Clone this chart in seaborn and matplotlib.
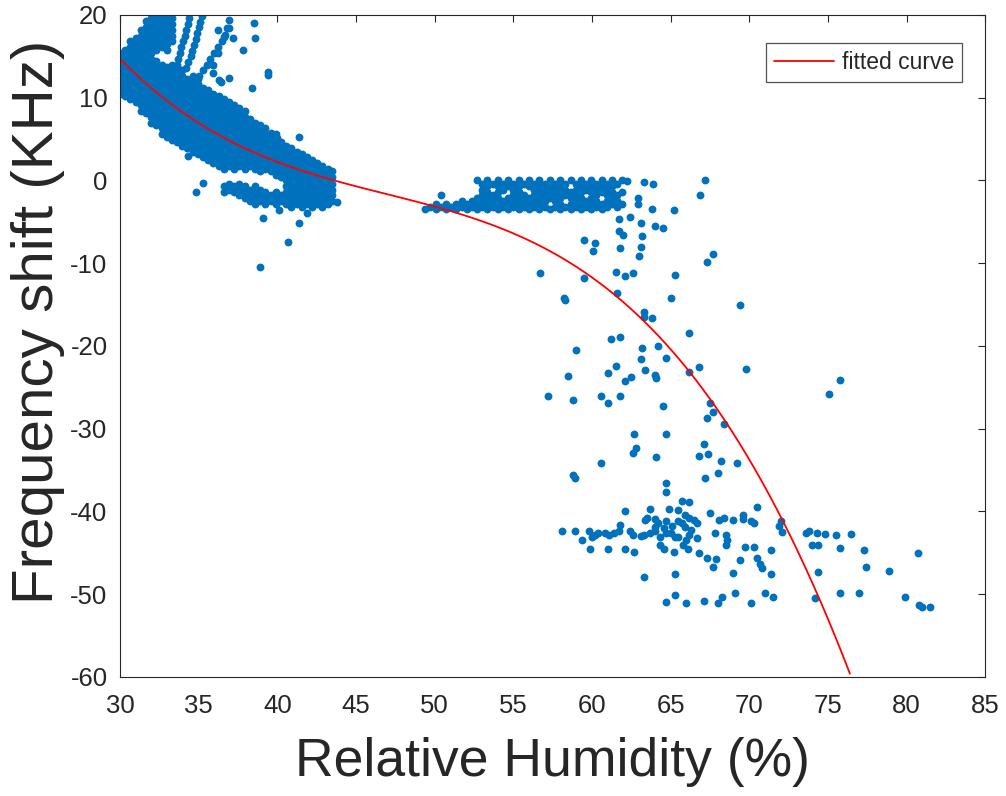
import matplotlib
matplotlib.use("Agg")
import matplotlib.pyplot as plt
import pandas as pd
import seaborn as sns

# dense cloud at low humidity: rh -> list of frequency shifts
dry_cloud = {
    30.0: [10.5, 11.2, 11.9, 12.6, 13.3, 14.0, 14.7, 15.4],
    30.33: [10.2, 10.9, 11.6, 12.3, 13.0, 13.7, 14.4, 15.1, 15.8],
    30.66: [9.8, 10.5, 11.2, 11.9, 12.6, 13.3, 14.0, 14.7, 15.4, 16.1, 16.8],
    30.99: [9.5, 10.2, 10.9, 11.6, 12.3, 13.0, 13.7, 14.4, 15.1, 15.8, 16.5, 17.2],
    31.32: [8.4, 9.1, 9.8, 10.5, 11.2, 11.9, 12.6, 13.3, 14.0, 14.7, 15.4, 16.1, 16.8, 17.5, 18.2],
    31.65: [8.1, 8.8, 9.5, 10.2, 10.9, 11.6, 12.3, 13.0, 13.7, 14.4, 15.1, 15.8, 16.5, 17.2, 17.9, 18.6, 19.3],
    31.98: [7.0, 7.7, 8.4, 9.1, 9.8, 10.5, 11.2, 11.9, 12.6, 13.3, 14.0, 14.7, 15.4, 16.1, 16.8, 17.5, 18.2, 18.9, 19.6],
    32.31: [6.7, 7.4, 8.1, 8.8, 9.5, 10.2, 10.9, 11.6, 12.3, 13.0, 13.7, 14.4, 15.8, 16.5, 17.2, 17.9, 18.6, 19.3, 20.0],
    32.64: [5.6, 6.3, 7.0, 7.7, 8.4, 9.1, 9.8, 10.5, 11.2, 11.9, 12.6, 13.3, 14.0, 16.1, 16.8, 17.5, 18.2, 18.9, 19.6],
    32.97: [5.3, 6.0, 6.7, 7.4, 8.1, 8.8, 9.5, 10.2, 10.9, 11.6, 12.3, 13.0, 13.7, 15.8, 16.5, 17.2, 17.9, 18.6, 19.3, 20.0],
    33.3: [4.9, 5.6, 6.3, 7.0, 7.7, 8.4, 9.1, 9.8, 10.5, 11.2, 11.9, 12.6, 13.3, 14.0, 16.8, 17.5, 18.2, 18.9, 19.6],
    33.63: [4.6, 5.3, 6.0, 6.7, 7.4, 8.1, 8.8, 9.5, 10.2, 10.9, 11.6, 12.3, 13.0, 13.7],
    33.96: [4.2, 4.9, 5.6, 6.3, 7.0, 7.7, 8.4, 9.1, 9.8, 10.5, 11.2, 11.9, 12.6, 13.3],
    34.29: [3.9, 4.6, 5.3, 6.0, 6.7, 7.4, 8.1, 8.8, 9.5, 10.2, 10.9, 11.6, 12.3],
    34.62: [3.5, 4.2, 4.9, 5.6, 6.3, 7.0, 7.7, 8.4, 9.1, 9.8, 10.5, 11.2, 11.9, 12.6],
    34.95: [3.2, 3.9, 4.6, 5.3, 6.0, 6.7, 7.4, 8.1, 8.8, 9.5, 10.2, 10.9, 11.6, 12.3],
    35.28: [2.8, 3.5, 4.2, 4.9, 5.6, 6.3, 7.0, 7.7, 8.4, 9.1, 9.8, 10.5, 11.2],
    35.61: [2.5, 3.2, 3.9, 4.6, 5.3, 6.0, 6.7, 7.4, 8.1, 8.8, 9.5, 10.2, 10.9],
    35.94: [2.1, 2.8, 3.5, 4.2, 4.9, 5.6, 6.3, 7.0, 7.7, 8.4, 9.1, 9.8, 10.5],
    36.27: [1.8, 2.5, 3.2, 3.9, 4.6, 5.3, 6.0, 6.7, 7.4, 8.1, 8.8, 9.5, 10.2],
    36.6: [-1.4, -0.7, 1.4, 2.1, 2.8, 3.5, 4.2, 4.9, 5.6, 6.3, 7.0, 7.7, 8.4, 9.1, 9.8],
    36.93: [-1.1, -0.4, 1.8, 2.5, 3.2, 3.9, 4.6, 5.3, 6.0, 6.7, 7.4, 8.1, 8.8, 9.5],
    37.26: [-1.4, -0.7, 1.4, 2.1, 2.8, 3.5, 4.2, 4.9, 5.6, 6.3, 7.0, 7.7, 8.4, 9.1],
    37.59: [-1.8, -1.1, -0.4, 1.8, 2.5, 3.2, 3.9, 4.6, 5.3, 6.0, 6.7, 7.4, 8.1, 8.8],
    37.92: [-2.1, -1.4, -0.7, 1.4, 2.1, 2.8, 3.5, 4.2, 4.9, 5.6, 6.3, 7.0, 7.7, 8.4],
    38.25: [-2.5, -1.8, -1.1, 1.8, 2.5, 3.2, 3.9, 4.6, 5.3, 6.0, 6.7, 7.4],
    38.58: [-2.8, -2.1, -1.4, -0.7, 1.4, 2.1, 2.8, 3.5, 4.2, 4.9, 5.6, 6.3, 7.0],
    38.91: [-2.5, -1.8, -1.1, 1.1, 1.8, 2.5, 3.2, 3.9, 4.6, 5.3, 6.0, 6.7],
    39.24: [-2.8, -2.1, -1.4, 1.4, 2.1, 2.8, 3.5, 4.2, 4.9, 5.6, 6.3],
    39.57: [-2.5, -1.8, 1.1, 1.8, 2.5, 3.2, 3.9, 4.6, 5.3],
    39.9: [-2.8, -2.1, -1.4, 0.7, 1.4, 2.1, 2.8, 3.5, 4.2, 4.9, 5.6],
    40.23: [-2.5, -1.8, 0.4, 1.1, 1.8, 2.5, 3.2, 3.9, 4.6],
    40.56: [-2.8, -2.1, -1.4, -0.7, 0.0, 0.7, 1.4, 2.1, 2.8, 3.5, 4.2],
    40.89: [-3.2, -2.5, -1.8, -1.1, -0.4, 0.4, 1.1, 1.8, 2.5, 3.2, 3.9],
    41.22: [-2.8, -2.1, -1.4, -0.7, 0.0, 0.7, 1.4, 2.1, 2.8, 3.5],
    41.55: [-3.2, -2.5, -1.8, -1.1, -0.4, 0.4, 1.1, 1.8, 2.5, 3.2],
    41.88: [-2.8, -2.1, -1.4, -0.7, 0.0, 0.7, 1.4, 2.1, 2.8],
    42.21: [-3.2, -2.5, -1.8, -1.1, -0.4, 0.4, 1.1, 1.8, 2.5],
    42.54: [-2.8, -2.1, -1.4, -0.7, 0.0, 0.7, 1.4, 2.1],
    42.87: [-3.2, -2.5, -1.8, -1.1, -0.4, 0.4, 1.1, 1.8],
    43.2: [-2.8, -2.1, -1.4, -0.7, 0.0, 0.7, 1.4],
    43.5: [-2.5, -1.8, -1.1, -0.4, 0.4, 1.1],
}

# streaks rising out of the dry cloud and its stray points
dry_rh = [33.6, 33.7, 33.8, 33.9, 34.0, 34.1, 34.2, 34.3, 34.4,
          34.2, 34.35, 34.5, 34.6, 34.7, 34.8, 34.9, 35.0, 35.1, 35.2,
          35.0, 35.25, 35.5, 35.75, 36.0, 36.25, 36.5, 36.7, 36.9,
          36.9, 38.5, 36.2, 36.8, 37.2, 38.6, 37.8, 39.4, 39.4, 38.4,
          36.4, 36.9, 35.9, 35.9, 36.3, 36.6, 36.2, 41.4, 39.6, 40.0,
          34.8, 35.3, 34.3, 39.1, 40.7, 41.4, 43.8, 38.9, 41.9, 40.1]
dry_shift = [14.0, 14.7, 15.4, 16.1, 16.8, 17.5, 18.2, 18.9, 19.6,
             13.6, 14.3, 15.0, 15.7, 16.4, 17.1, 17.8, 18.5, 19.2, 19.9,
             12.6, 13.3, 14.0, 14.7, 15.4, 16.1, 16.8, 17.6, 18.4,
             19.4, 19.0, 18.2, 18.4, 17.2, 17.2, 15.8, 13.1, 12.8, 11.2,
             11.9, 12.4, 14.0, 13.0, 12.2, 17.3, 15.4, 5.3, 5.7, 5.1,
             -1.4, -0.3, 2.9, -4.5, -7.4, -5.1, -2.6, -10.5, -3.9, -3.6]

# flat band between 50 and 62 %RH
plateau_cloud = {
    49.4: [-3.5], 49.73: [-3.2], 50.06: [-2.8, -3.5], 50.39: [-1.7, -3.2],
    50.72: [-2.8, -3.5], 51.05: [-3.2], 51.38: [-2.8, -3.5], 51.71: [-2.5, -3.2],
    52.04: [-2.8, -3.5], 52.37: [-2.5, -3.2],
    52.7: [0.0, -2.1, -2.8, -3.5],
    53.03: [-0.4, -1.1, -1.8, -2.5, -3.2],
    53.36: [0.0, -0.7, -1.4, -2.1, -2.8, -3.5],
    53.69: [-0.4, -1.8, -2.5, -3.2],
    54.02: [0.0, -0.7, -1.4, -2.1, -2.8, -3.5],
    54.35: [-0.4, -1.1, -2.5, -3.2],
    54.68: [0.0, -0.7, -2.1, -2.8, -3.5],
    55.01: [-0.4, -1.1, -1.8, -2.5, -3.2],
    55.34: [0.0, -0.7, -1.4, -2.1, -2.8, -3.5],
    55.67: [-0.4, -1.8, -2.5, -3.2],
    56.0: [0.0, -0.7, -2.1, -2.8, -3.5],
    56.33: [-0.4, -1.1, -1.8, -2.5, -3.2],
    56.66: [0.0, -0.7, -1.4, -2.1, -2.8, -3.5],
    56.99: [-0.4, -1.1, -1.8, -2.5, -3.2],
    57.32: [0.0, -0.7, -1.4, -2.1, -3.5],
    57.65: [-0.4, -1.1, -1.8, -2.5, -3.2],
    57.98: [0.0, -0.7, -1.4, -2.1, -2.8, -3.5],
    58.31: [-0.4, -1.1, -1.8, -3.2],
    58.64: [0.0, -1.4, -2.1, -2.8, -3.5],
    58.97: [-0.4, -1.1, -1.8, -2.5, -3.2],
    59.3: [0.0, -0.7, -1.4, -2.1, -2.8, -3.5],
    59.63: [-0.4, -1.1, -2.5, -3.2],
    59.96: [0.0, -0.7, -1.4, -2.1, -2.8, -3.5],
    60.29: [-0.4, -1.1, -1.8, -2.5, -3.2],
    60.62: [0.0, -0.7, -1.4, -2.8, -3.5],
    60.95: [-0.4, -1.1, -1.8, -2.5, -3.2],
    61.28: [0.0, -0.7, -1.4, -2.1, -2.8],
    61.61: [-0.4, -1.8, -2.5, -3.2],
    61.94: [0.0, -1.4, -2.8],
    62.2: [-0.1],
}

# scattered points in the transition zone
drop_rh = [63.3, 63.9, 67.2, 66.9, 62.9, 62.9, 63.8, 65.2, 61.7, 62.4, 63.1, 64.0,
           64.5, 61.7, 62.0, 63.2, 59.5, 60.2, 60.1, 61.8, 63.1, 63.0, 67.7, 67.3,
           56.7, 59.5, 61.5, 62.1, 62.6, 65.3, 58.2, 58.3, 61.6, 65.0, 69.4, 63.3,
           63.3, 63.8, 66.2, 61.2, 61.8, 64.2, 59.0, 63.2, 64.7, 63.1, 61.5, 66.8,
           69.8, 61.0, 63.4, 64.0, 64.1, 62.5, 62.1, 58.5, 66.2, 75.8, 75.1, 57.2,
           58.8, 60.6, 61.0, 61.8, 64.5, 67.5, 67.7, 67.3, 68.4, 62.7, 62.8, 64.7,
           67.1, 60.6, 58.8, 58.9, 64.1, 66.8, 67.4, 68.2, 69.2, 62.6, 67.2, 68.0,
           64.7, 64.7, 65.7, 66.2, 70.5]
drop_shift = [-0.2, -0.4, 0.0, -1.7, -2.1, -2.9, -3.4, -3.6, -4.6, -4.4, -5.1, -5.5,
              -5.8, -6.1, -6.6, -6.7, -7.2, -7.6, -8.5, -8.1, -8.0, -9.1, -8.9, -9.8,
              -11.2, -11.8, -11.1, -11.5, -11.2, -11.4, -14.2, -14.5, -13.6, -14.2, -15.0, -15.9,
              -16.5, -16.6, -18.4, -19.1, -18.9, -20.0, -20.5, -20.2, -21.4, -21.6, -22.4, -22.5,
              -22.8, -23.3, -22.9, -23.5, -23.9, -23.7, -24.2, -23.6, -23.1, -24.1, -25.8, -26.0,
              -26.5, -26.1, -26.9, -26.1, -27.3, -26.9, -28.0, -28.7, -29.4, -30.6, -32.3, -30.6,
              -31.8, -34.1, -35.6, -35.9, -33.4, -33.3, -33.1, -33.9, -34.2, -32.9, -36.0, -35.4,
              -36.6, -37.7, -38.7, -38.9, -39.4]

# saturated cluster at high humidity
wet_rh = [62.1, 63.7, 64.9, 65.5, 67.5, 69.6, 65.9, 66.2, 66.5, 66.7, 63.4, 64.0,
          64.7, 65.5, 65.7, 68.1, 68.4, 69.0, 69.6, 70.1, 70.3, 72.0, 71.9, 72.1,
          64.0, 58.1, 58.9, 59.8, 60.4, 60.8, 61.4, 61.7, 61.8, 59.4, 60.0, 62.4,
          62.6, 63.1, 63.3, 63.7, 64.0, 64.3, 64.7, 65.0, 65.3, 65.5, 66.2, 66.7,
          67.8, 68.5, 68.6, 68.5, 59.9, 61.0, 62.1, 62.7, 64.6, 65.2, 66.1, 66.8,
          67.3, 67.9, 69.7, 70.3, 71.4, 67.7, 69.0, 69.4, 70.5, 70.7, 70.8, 71.4,
          63.3, 65.3, 64.7, 65.3, 66.0, 67.1, 68.0, 68.3, 69.1, 70.1, 71.0, 71.5,
          73.6, 73.8, 74.3, 74.8, 75.5, 76.5, 74.0, 74.4, 75.8, 77.3, 80.7, 74.4,
          77.4, 78.9, 74.2, 75.8, 77.0, 79.9, 80.8, 81.0, 81.5,
          63.5, 64.2, 64.6, 65.1, 65.9, 66.3, 66.0, 65.8, 64.3, 60.2, 61.1]
wet_shift = [-40.0, -39.7, -39.7, -39.8, -40.2, -40.4, -40.4, -40.8, -41.0, -41.4, -41.0, -40.9,
             -41.1, -41.1, -41.4, -41.0, -40.8, -41.0, -40.9, -41.1, -41.4, -41.2, -41.8, -42.5,
             -41.9, -42.4, -42.4, -42.4, -42.6, -42.6, -42.6, -42.4, -41.6, -43.4, -43.1, -42.4,
             -42.9, -43.0, -42.8, -42.6, -42.4, -43.1, -42.6, -42.6, -43.1, -43.1, -42.9, -43.2,
             -42.6, -42.8, -43.4, -44.0, -44.5, -44.5, -44.5, -44.9, -44.5, -44.9, -44.5, -45.0,
             -45.6, -45.7, -44.3, -44.3, -44.6, -46.7, -47.4, -45.9, -45.6, -46.4, -46.8, -47.5,
             -47.9, -47.6, -50.9, -50.1, -51.1, -50.8, -51.1, -50.3, -49.9, -51.0, -49.9, -50.3,
             -42.6, -42.4, -42.6, -42.7, -42.8, -42.7, -44.1, -44.1, -44.4, -44.6, -45.0, -47.3,
             -46.7, -47.2, -50.5, -49.9, -49.8, -50.3, -51.3, -51.5, -51.5,
             -40.8, -41.4, -42.0, -41.7, -41.9, -42.2, -43.4, -44.0, -44.0, -42.9, -42.8]

# points
curve_rh = [30.0, 33.2, 37.0, 40.8, 44.0, 49.1, 55.5, 58.4, 59.5, 63.3, 66.2, 69.6, 72.1, 75.3, 76.4]
curve_shift = [14.9, 8.9, 4.9, 1.65, 0.0, -2.6, -6.8, -9.6, -11.7, -16.8, -22.9, -32.5, -41.0, -53.9, -60.0]


def main():
    rh, shift = [], []
    for cloud in (dry_cloud, plateau_cloud):
        for x, ys in cloud.items():
            rh += [x] * len(ys)
            shift += ys
    rh += dry_rh + drop_rh + wet_rh
    shift += dry_shift + drop_shift + wet_shift
    points = pd.DataFrame({"rh": rh, "shift": shift})
    curve = pd.DataFrame({"rh": curve_rh, "shift": curve_shift})

    sns.set_style("white")
    plt.rcParams["font.family"] = ["Liberation Sans", "DejaVu Sans"]
    plt.rcParams["axes.unicode_minus"] = False
    grey = "#262626"

    fig = plt.figure(figsize=(10.06, 7.96), dpi=100)
    ax = fig.add_axes([0.1193, 0.1495, 0.8600, 0.8317])

    sns.scatterplot(data=points, x="rh", y="shift", ax=ax, color="#0072BD",
                    s=32, linewidth=0, legend=False)
    sns.regplot(data=curve, x="rh", y="shift", ax=ax, order=3, ci=None,
                scatter=False, color="#FF0000", label="fitted curve",
                line_kws={"linewidth": 1.3})

    ax.set_xlim(30, 85)
    ax.set_ylim(-60, 20)
    ax.set_xticks(range(30, 86, 5))
    ax.set_yticks(range(-60, 21, 10))
    ax.tick_params(direction="in", length=5, width=0.8, top=True, right=True,
                   labelsize=18.5, colors=grey)
    ax.tick_params(axis="x", pad=12)
    ax.tick_params(axis="y", pad=9)
    for sp in ax.spines.values():
        sp.set_color(grey)
        sp.set_linewidth(0.8)

    ax.set_xlabel("Relative Humidity (%)", fontsize=38.5, color=grey, labelpad=14)
    ax.set_ylabel("Frequency shift (KHz)", fontsize=42, color=grey)
    ax.yaxis.set_label_coords(-0.064, 0.536)

    leg = ax.legend(loc="upper right", bbox_to_anchor=(0.9734, 0.9577),
                    borderaxespad=0, fontsize=16.5, handlelength=2.6,
                    handletextpad=0.35, borderpad=0.35,
                    fancybox=False, frameon=True)
    leg.get_frame().set_edgecolor(grey)
    leg.get_frame().set_linewidth(0.9)
    for t in leg.get_texts():
        t.set_color(grey)

    fig.savefig("out.png", dpi=100)


if __name__ == "__main__":
    main()
